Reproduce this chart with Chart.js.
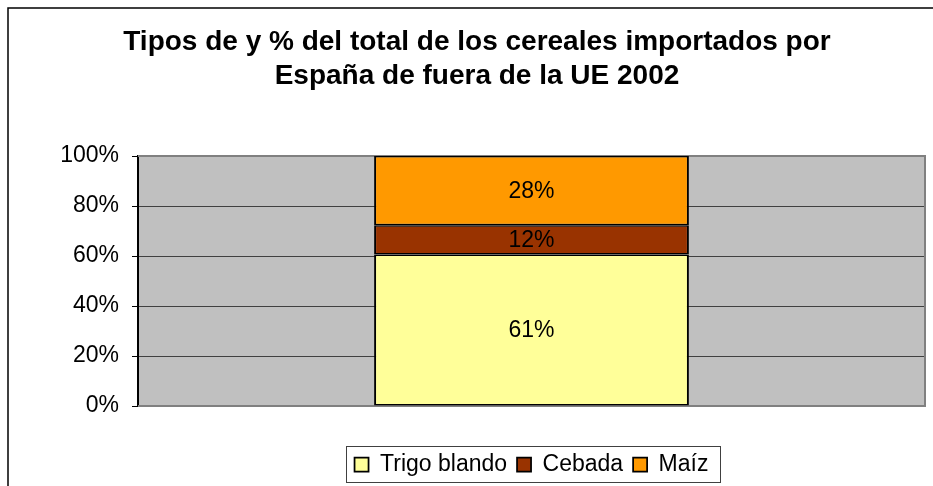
<!DOCTYPE html>
<html>
<head>
<meta charset="utf-8">
<script src="https://cdn.jsdelivr.net/npm/chart.js@4/dist/chart.umd.min.js"></script>
<style>
  html, body { margin: 0; padding: 0; background: #fff; }
  #wrap { width: 933px; height: 486px; }
</style>
</head>
<body>
<div id="wrap"><canvas id="mychart"></canvas></div>
<script>

// datos
var Categorias = [''];
var Series = ['Trigo blando', 'Cebada', 'Maíz'];
var TrigoBlando = [60.6];
var Cebada = [11.7];
var Maiz = [27.7];
var Colores = ['#FFFF99', '#993300', '#FF9900'];
var TickLabels = ['0%', '20%', '40%', '60%', '80%', '100%'];
var Titulo = ['Tipos de y % del total de los cereales importados por', 'España de fuera de la UE 2002'];

var FONT = '"Liberation Sans", Arial, sans-serif';

// fondo gris, marco del grafico y borde del area de trazado
const plotArea =
{
	id: 'plotArea',
	beforeDraw: function(chart)
	{
		var ctx = chart.ctx;
		var a = chart.chartArea;
		ctx.save();
		ctx.strokeStyle = '#000';
		ctx.lineWidth = 1.5;
		ctx.strokeRect(8, 8, 980, 520);
		ctx.fillStyle = '#C0C0C0';
		ctx.fillRect(a.left, a.top, a.right - a.left, a.bottom - a.top);
		ctx.restore();
	},
	beforeDatasetsDraw: function(chart)
	{
		var ctx = chart.ctx;
		var a = chart.chartArea;
		ctx.save();
		ctx.strokeStyle = '#808080';
		ctx.lineWidth = 2;
		ctx.beginPath();
		ctx.moveTo(a.left, a.top);
		ctx.lineTo(a.right, a.top);
		ctx.lineTo(a.right, a.bottom);
		ctx.lineTo(a.left, a.bottom);
		ctx.stroke();
		ctx.restore();
	},
	afterDatasetsDraw: function(chart)
	{
		// etiquetas de porcentaje dentro de cada tramo
		var ctx = chart.ctx;
		ctx.save();
		ctx.font = '23px ' + FONT;
		ctx.fillStyle = '#000';
		ctx.textAlign = 'center';
		ctx.textBaseline = 'middle';
		chart.data.datasets.forEach(function(ds, i)
		{
			var meta = chart.getDatasetMeta(i);
			meta.data.forEach(function(bar, j)
			{
				var p = bar.getCenterPoint();
				ctx.fillText(Math.round(ds.data[j]) + '%', p.x, p.y + 1);
			});
		});
		ctx.restore();
	},
	afterDraw: function(chart)
	{
		// recuadro de la leyenda
		var boxes = chart.legend.legendHitBoxes;
		if (!boxes || !boxes.length) return;
		var l = Infinity, r = -Infinity, t = Infinity, b = -Infinity;
		boxes.forEach(function(h)
		{
			l = Math.min(l, h.left);
			r = Math.max(r, h.left + h.width);
			t = Math.min(t, h.top);
			b = Math.max(b, h.top + h.height);
		});
		var ctx = chart.ctx;
		ctx.save();
		ctx.strokeStyle = '#404040';
		ctx.lineWidth = 1;
		ctx.strokeRect(Math.round(l - 9) + 0.5, Math.round(t - 7) + 0.5, Math.round(r - l + 20), Math.round(b - t + 13));
		ctx.restore();
	}
};

const data =
{
	labels: Categorias,
	datasets:
	[
		{ label: Series[0], data: TrigoBlando, backgroundColor: Colores[0] },
		{ label: Series[1], data: Cebada, backgroundColor: Colores[1] },
		{ label: Series[2], data: Maiz, backgroundColor: Colores[2] }
	].map(function(d)
	{
		d.borderColor = '#000';
		d.borderWidth = { top: 1.5, bottom: 1.5, left: 2, right: 2 };
		d.borderSkipped = false;
		d.categoryPercentage = 1;
		d.barPercentage = 0.4;
		return d;
	})
};

const config =
{
	type: 'bar',
	data: data,
	plugins: [plotArea],
	options:
	{
		responsive: true,
		maintainAspectRatio: false,
		animation: false,
		layout: { padding: { left: 29, right: 8, top: 0, bottom: 0 } },
		scales:
		{
			x:
			{
				stacked: true,
				grid: { display: false },
				border: { display: false },
				ticks: { display: false },
				afterFit: function(s) { s.height = 37; }
			},
			y:
			{
				stacked: true,
				min: 0,
				max: 100,
				afterFit: function(s) { s.width = 109; },
				grid:
				{
					color: function(c) { return (c.tick && (c.tick.value === 0 || c.tick.value === 100)) ? 'rgba(0,0,0,0)' : '#404040'; },
					lineWidth: 1,
					tickColor: '#000',
					tickLength: 6
				},
				border: { color: '#000', width: 2 },
				ticks:
				{
					stepSize: 20,
					padding: 13,
					color: '#000',
					font: { family: FONT, size: 23 },
					callback: function(v) { return TickLabels[v / 20]; }
				}
			}
		},
		plugins:
		{
			title:
			{
				display: true,
				text: Titulo,
				color: '#000',
				align: 'center',
				padding: { top: 25, bottom: 63 },
				font: { family: FONT, size: 28, weight: 'bold', lineHeight: '34px' }
			},
			legend:
			{
				position: 'bottom',
				fullSize: false,
				labels:
				{
					color: '#000',
					boxWidth: 14,
					boxHeight: 14,
					padding: 10,
					font: { family: FONT, size: 23 }
				}
			},
			tooltip: { enabled: false }
		}
	}
};

const barChart = new Chart(document.getElementById('mychart').getContext('2d'), config);

</script>
</body>
</html>
